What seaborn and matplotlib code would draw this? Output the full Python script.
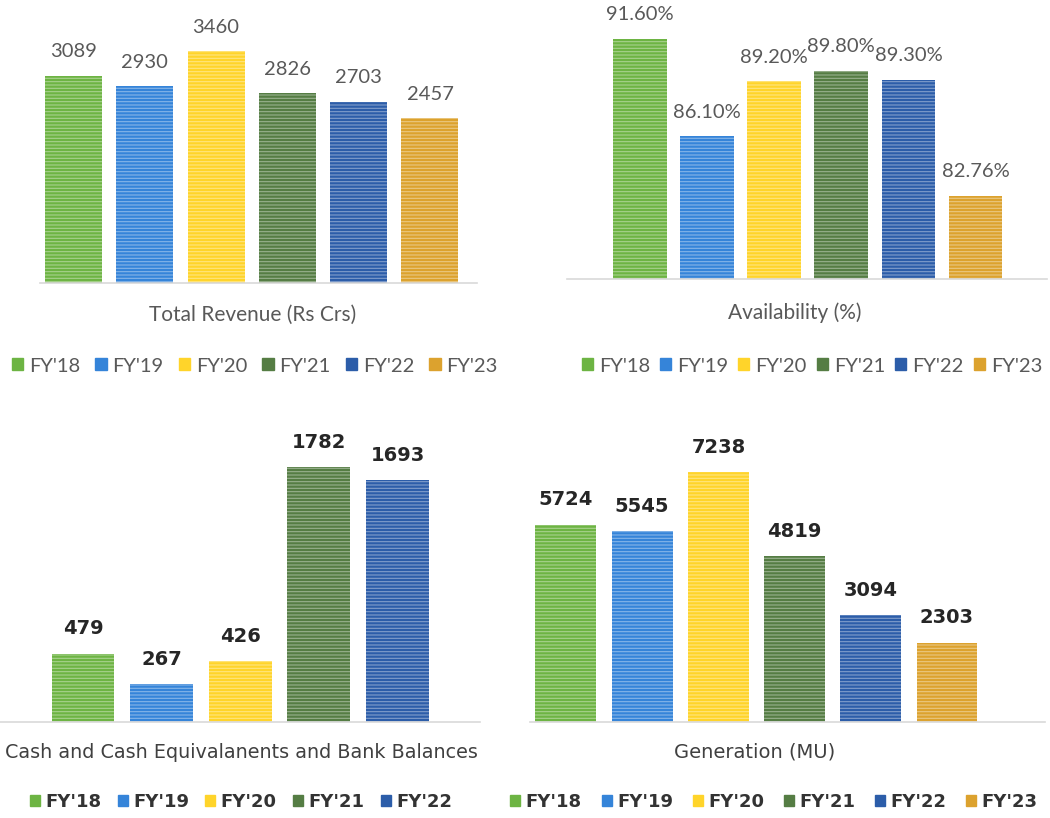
import matplotlib
matplotlib.use("Agg")
import matplotlib.pyplot as plt
import seaborn as sns
from matplotlib.patches import Patch

# ---- data ----
years = ["FY'18", "FY'19", "FY'20", "FY'21", "FY'22", "FY'23"]
revenue = [3089, 2930, 3460, 2826, 2703, 2457]
availability = [91.60, 86.10, 89.20, 89.80, 89.30, 82.76]
cash_years = ["FY'18", "FY'19", "FY'20", "FY'21", "FY'22"]
cash = [479, 267, 426, 1782, 1693]
generation = [5724, 5545, 7238, 4819, 3094, 2303]
year_colors = ["#6DB443", "#3584D9", "#FFD42A", "#557D44", "#2C5DA9", "#DCA22E"]

sns.set_theme(style="white")
plt.rcParams["hatch.linewidth"] = 0.8

W, H = 1050, 818
fig = plt.figure(figsize=(W / 100, H / 100), dpi=100)
palette = dict(zip(years, year_colors))

TOP_FONT = ["Lato", "DejaVu Sans"]
BOT_FONT = ["DejaVu Sans"]
TOP_COLOR = "#595959"


def px_axes(left, right, top, bottom):
    return fig.add_axes([left / W, 1 - bottom / H, (right - left) / W, (bottom - top) / H])


def panel(rect, cats, vals, ylim, xlim, fmt, font, fsize, weight, tcolor):
    ax = px_axes(*rect)
    sns.barplot(x=cats, y=vals, hue=cats, palette=palette, width=0.8,
                saturation=1, legend=False, ax=ax)
    for p in ax.patches:
        p.set_hatch("-----")
        p.set_edgecolor((1, 1, 1, 0.4))
        p.set_linewidth(0)
    for i, v in enumerate(vals):
        ax.annotate(fmt(v), (i, v), xytext=(0, 11), textcoords="offset points",
                    ha="center", va="bottom", fontsize=fsize, fontweight=weight,
                    color=tcolor, family=font)
    ax.set_ylim(*ylim)
    ax.set_xlim(*xlim)
    for s in ["top", "left", "right"]:
        ax.spines[s].set_visible(False)
    ax.spines["bottom"].set_color("#D9D9D9")
    ax.spines["bottom"].set_linewidth(1.2)
    ax.set_xticks([])
    ax.set_yticks([])
    ax.set_xlabel("")
    ax.set_ylabel("")
    ax.patch.set_alpha(0)
    return ax


def legend(cats, cx, cy, font, fsize, weight, tcolor, colspace):
    handles = [Patch(facecolor=palette[c], edgecolor=palette[c], label=c) for c in cats]
    leg = fig.legend(handles=handles, loc="center", bbox_to_anchor=(cx / W, 1 - cy / H),
                     ncol=len(cats), frameon=False, handlelength=0.55, handleheight=0.55,
                     handletextpad=0.3, columnspacing=colspace,
                     prop={"family": font, "size": fsize, "weight": weight})
    for t in leg.get_texts():
        t.set_color(tcolor)


# Total revenue
panel((40, 477, 20, 283), years, revenue, (0, 3920), (-0.47, 5.66),
      lambda v: f"{v:d}", TOP_FONT, 14.5, "normal", TOP_COLOR)
fig.text(253 / W, 1 - 315 / H, "Total Revenue (Rs Crs)", ha="center", va="center",
         fontsize=15, color=TOP_COLOR, family=TOP_FONT)
legend(years, 255, 366, TOP_FONT, 14.5, "normal", TOP_COLOR, 0.75)

# Availability
panel((567, 1047, 5, 279), years, availability, (78.06, 93.5), (-1.088, 6.066),
      lambda v: f"{v:.2f}%", TOP_FONT, 14.5, "normal", TOP_COLOR)
fig.text(795 / W, 1 - 313 / H, "Availability (%)", ha="center", va="center",
         fontsize=15, color=TOP_COLOR, family=TOP_FONT)
legend(years, 812, 366, TOP_FONT, 14.5, "normal", TOP_COLOR, 0.5)

# Cash and bank balances
panel((0, 480, 430, 722), cash_years, cash, (0, 2044), (-1.056, 5.05),
      lambda v: f"{v:d}", BOT_FONT, 14, "bold", "#262626")
fig.text(241 / W, 1 - 752 / H, "Cash and Cash Equivalanents and Bank Balances",
         ha="center", va="center", fontsize=13.8, color="#404040", family=BOT_FONT)
legend(cash_years, 241, 802, BOT_FONT, 13, "bold", "#333333", 0.9)

# Generation
panel((530, 1045, 430, 722), years, generation, (0, 8470), (-0.472, 6.286),
      lambda v: f"{v:d}", BOT_FONT, 14, "bold", "#262626")
fig.text(755 / W, 1 - 752 / H, "Generation (MU)", ha="center", va="center",
         fontsize=14, color="#404040", family=BOT_FONT)
legend(years, 774, 802, BOT_FONT, 13, "bold", "#333333", 1.1)

fig.savefig("out.png", dpi=100, facecolor="white")
